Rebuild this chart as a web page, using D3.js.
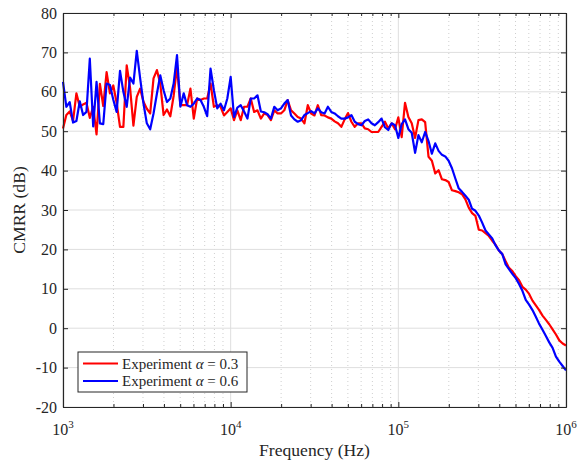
<!DOCTYPE html>
<html>
<head>
<meta charset="utf-8">
<script src="https://cdn.jsdelivr.net/npm/d3@7"></script>
<style>
  body { margin: 0; background: #fff; }
  text { font-family: "Liberation Serif", "Times New Roman", serif; fill: #262626; }
</style>
</head>
<body>
<script>
// measurement frequencies (Hz), 50 points per decade
var freq = [1000,1047,1096,1148,1202,1259,1318,1380,1445,1514,1585,1660,1738,1820,1905,1995,2089,2188,2291,2399,2512,2630,2754,2884,3020,3162,3311,3467,3631,3802,3981,4169,4365,4571,4786,5012,5248,5495,5754,6026,6310,6607,6918,7244,7586,7943,8318,8710,9120,9550,
  10000,10470,10960,11480,12020,12590,13180,13800,14450,15140,15850,16600,17380,18200,19050,19950,20890,21880,22910,23990,25120,26300,27540,28840,30200,31620,33110,34670,36310,38020,39810,41690,43650,45710,47860,50120,52480,54950,57540,60260,63100,66070,69180,72440,75860,79430,83180,87100,91200,95500,
  100000,104700,109600,114800,120200,125900,131800,138000,144500,151400,158500,166000,173800,182000,190500,199500,208900,218800,229100,239900,251200,263000,275400,288400,302000,316200,331100,346700,363100,380200,398100,416900,436500,457100,478600,501200,524800,549500,575400,602600,631000,660700,691800,724400,758600,794300,831800,871000,912000,955000,1000000];

// CMRR (dB), alpha = 0.3
var cmrr03 = [50.7,54.1,55.0,52.6,59.6,56.2,56.8,57.2,53.4,56.2,49.2,62.0,56.4,65.0,59.6,61.6,57.2,51.1,51.1,66.7,61.0,51.4,58.7,60.8,57.5,55.7,54.5,63.4,65.5,62.1,54.1,55.5,53.8,59.0,66.3,56.6,56.6,56.6,60.8,53.2,58.3,57.9,58.3,58.3,62.1,56.2,56.6,56.2,54.0,54.9,
  55.8,52.8,55.3,52.8,56.2,56.2,58.3,54.9,55.3,53.2,54.5,54.1,52.8,55.3,54.5,54.5,55.3,57.9,55.3,54.5,53.6,53.2,52.0,56.6,54.5,54.0,56.6,54.1,54.0,53.5,53.2,52.5,52.0,51.1,53.0,54.6,52.4,51.1,52.0,52.0,50.7,50.5,49.8,49.8,49.8,51.1,52.4,50.7,52.0,50.5,
  53.5,48.5,57.2,53.6,52.0,48.3,52.8,53.0,52.3,43.5,42.5,39.3,40.1,37.8,37.6,37.1,35.0,34.8,34.5,34.0,32.7,30.6,29.2,28.5,25.0,24.8,24.1,23.4,22.2,21.2,19.7,18.8,17.0,15.3,14.5,13.2,12.2,10.5,9.8,8.7,7.0,5.8,4.6,3.2,2.1,1.0,-0.3,-1.6,-3.1,-3.9,-4.4];

// CMRR (dB), alpha = 0.6
var cmrr06 = [62.5,56.2,57.4,52.2,52.6,57.6,54.1,54.9,68.4,51.2,62.5,52.0,51.8,62.1,61.7,58.0,54.9,65.3,60.0,56.2,63.6,62.1,70.4,63.5,57.0,52.0,50.5,54.5,59.5,64.2,60.4,57.4,58.3,62.1,69.3,56.2,59.6,56.6,56.2,57.0,58.3,57.9,56.2,53.8,65.9,60.4,55.8,57.0,55.3,58.3,
  63.8,53.6,56.0,56.6,55.0,53.2,58.3,58.3,59.1,55.0,54.8,54.3,53.2,56.2,55.3,55.8,57.0,57.9,54.0,53.0,52.4,52.8,54.1,54.6,55.1,54.5,55.8,54.8,54.5,56.2,54.9,54.5,53.8,53.2,53.2,53.5,54.1,52.4,51.8,51.5,52.6,53.0,52.0,51.5,52.3,53.2,51.0,50.3,52.0,51.5,
  48.3,51.8,53.0,50.5,49.6,44.5,49.0,47.2,49.8,47.5,44.3,46.9,45.0,44.0,43.6,42.5,40.6,38.0,35.5,34.6,33.6,32.6,30.3,29.8,28.6,26.8,24.8,23.8,22.8,21.0,19.7,18.8,16.2,15.0,13.8,12.7,11.2,9.5,7.2,6.0,4.6,2.9,1.1,-0.4,-2.0,-3.6,-5.0,-7.2,-8.5,-9.6,-10.7];

var seriesNames = ["0.3", "0.6"];
var seriesColors = ["#ff0000", "#0000ff"];
var yTicks = [-20, -10, 0, 10, 20, 30, 40, 50, 60, 70, 80];
var xDecades = [1e3, 1e4, 1e5, 1e6];

var width = 577, height = 464;
var margin = { left: 63, right: 11, top: 13, bottom: 57 };

var svg = d3.select("body").append("svg")
  .attr("width", width)
  .attr("height", height);

var x = d3.scaleLog().domain([1e3, 1e6]).range([margin.left, width - margin.right]);
var y = d3.scaleLinear().domain([-20, 80]).range([height - margin.bottom, margin.top]);

// minor x positions 2..9 per decade
var xMinor = [];
[1e3, 1e4, 1e5].forEach(function(d) {
  for (var m = 2; m <= 9; m++) xMinor.push(d * m);
});

var x0 = x.range()[0], x1 = x.range()[1], y0 = y.range()[0], y1 = y.range()[1];

svg.append("rect")
  .attr("x", x0).attr("y", y1)
  .attr("width", x1 - x0).attr("height", y0 - y1)
  .attr("fill", "#fff");

// grid
var grid = svg.append("g");
grid.selectAll(".minor").data(xMinor).enter().append("line")
  .attr("x1", function(d) { return x(d); }).attr("x2", function(d) { return x(d); })
  .attr("y1", y1).attr("y2", y0)
  .attr("stroke", "#cfcfcf").attr("stroke-width", 1)
  .attr("stroke-dasharray", "1,3");
grid.selectAll(".xmaj").data(xDecades).enter().append("line")
  .attr("x1", function(d) { return x(d); }).attr("x2", function(d) { return x(d); })
  .attr("y1", y1).attr("y2", y0)
  .attr("stroke", "#dedede").attr("stroke-width", 1);
grid.selectAll(".ymaj").data(yTicks).enter().append("line")
  .attr("x1", x0).attr("x2", x1)
  .attr("y1", function(d) { return y(d); }).attr("y2", function(d) { return y(d); })
  .attr("stroke", "#dedede").attr("stroke-width", 1);

// data lines
var line = d3.line()
  .x(function(d) { return x(d[0]); })
  .y(function(d) { return y(d[1]); });

[cmrr03, cmrr06].forEach(function(vals, i) {
  svg.append("path")
    .datum(freq.map(function(f, j) { return [f, vals[j]]; }))
    .attr("fill", "none")
    .attr("stroke", seriesColors[i])
    .attr("stroke-width", 2.2)
    .attr("stroke-linejoin", "round")
    .attr("d", line);
});

// axes, ticks inside like matlab
function styleAxis(g) {
  g.select(".domain").attr("stroke", "#262626").attr("stroke-width", 1.2);
  g.selectAll(".tick line").attr("stroke", "#262626").attr("stroke-width", 1);
}

svg.append("g")
  .attr("transform", "translate(0," + y0 + ")")
  .call(d3.axisBottom(x).tickValues(xMinor).tickSize(-3).tickSizeOuter(0).tickFormat(""))
  .call(styleAxis);
svg.append("g")
  .attr("transform", "translate(0," + y1 + ")")
  .call(d3.axisTop(x).tickValues(xMinor).tickSize(-3).tickSizeOuter(0).tickFormat(""))
  .call(styleAxis);
svg.append("g")
  .attr("transform", "translate(0," + y0 + ")")
  .call(d3.axisBottom(x).tickValues(xDecades).tickSize(-5).tickSizeOuter(0).tickFormat(""))
  .call(styleAxis);
svg.append("g")
  .attr("transform", "translate(0," + y1 + ")")
  .call(d3.axisTop(x).tickValues(xDecades).tickSize(-5).tickSizeOuter(0).tickFormat(""))
  .call(styleAxis);

var yAxis = svg.append("g")
  .attr("transform", "translate(" + x0 + ",0)")
  .call(d3.axisLeft(y).tickValues(yTicks).tickSize(-5).tickSizeOuter(0).tickPadding(6))
  .call(styleAxis);
yAxis.selectAll(".tick text")
  .style("font-family", "Liberation Serif")
  .style("font-size", "16px")
  .attr("fill", "#262626")
  .text(function(d) { return d; });

svg.append("g")
  .attr("transform", "translate(" + x1 + ",0)")
  .call(d3.axisRight(y).tickValues(yTicks).tickSize(-5).tickSizeOuter(0).tickFormat(""))
  .call(styleAxis);

// x tick labels 10^n
var xl = svg.append("g").selectAll("text").data(xDecades).enter().append("text")
  .attr("x", function(d) { return x(d); })
  .attr("y", y0 + 28)
  .attr("text-anchor", "middle")
  .style("font-size", "16px");
xl.append("tspan").text("10");
xl.append("tspan")
  .attr("dy", -7)
  .style("font-size", "11px")
  .text(function(d) { return Math.round(Math.log10(d)); });

// axis titles
svg.append("text")
  .attr("x", (x0 + x1) / 2)
  .attr("y", 456)
  .attr("text-anchor", "middle")
  .style("font-size", "17.6px")
  .text("Frequency (Hz)");

svg.append("text")
  .attr("transform", "translate(25," + ((y0 + y1) / 2) + ") rotate(-90)")
  .attr("text-anchor", "middle")
  .style("font-size", "17.6px")
  .text("CMRR (dB)");

// legend
var legend = svg.append("g").attr("transform", "translate(78,352)");
legend.append("rect")
  .attr("width", 169).attr("height", 40)
  .attr("fill", "#fff")
  .attr("stroke", "#262626").attr("stroke-width", 1);
seriesNames.forEach(function(n, i) {
  var row = legend.append("g").attr("transform", "translate(0," + (11.5 + i * 17.5) + ")");
  row.append("line")
    .attr("x1", 5).attr("x2", 40)
    .attr("stroke", seriesColors[i]).attr("stroke-width", 2.2);
  var t = row.append("text")
    .attr("x", 44).attr("y", 5)
    .style("font-size", "15px");
  t.append("tspan").text("Experiment ");
  t.append("tspan").style("font-style", "italic").text("\u03b1");
  t.append("tspan").text(" = " + n);
});
</script>
</body>
</html>
